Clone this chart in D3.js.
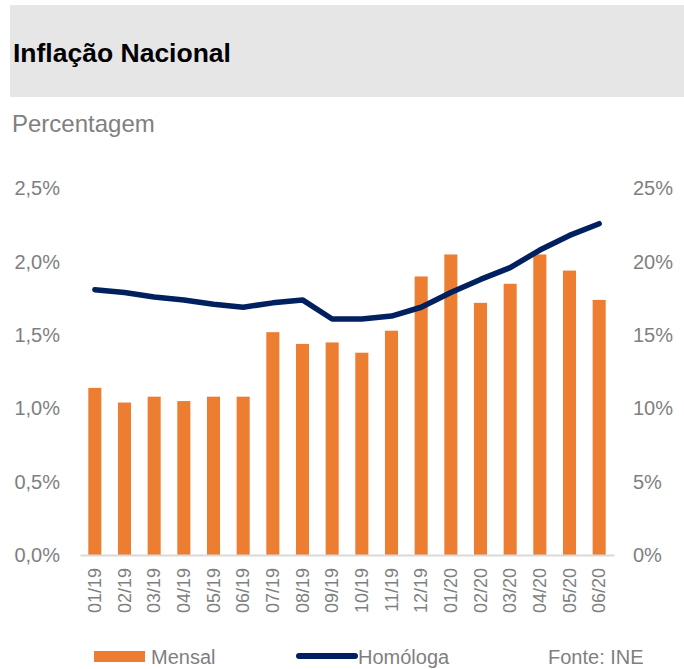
<!DOCTYPE html>
<html>
<head>
<meta charset="utf-8">
<script src="https://cdn.jsdelivr.net/npm/d3@7"></script>
<style>
  body { margin: 0; background: #fff; }
  svg { display: block; font-family: "Liberation Sans", Arial, sans-serif; }
</style>
</head>
<body>
<svg></svg>
<script>
// month labels (mm/yy)
const months = ["01/19", "02/19", "03/19", "04/19", "05/19", "06/19", "07/19", "08/19", "09/19",
  "10/19", "11/19", "12/19", "01/20", "02/20", "03/20", "04/20", "05/20", "06/20"];
// monthly inflation, % (left axis)
const mensal = [1.14, 1.04, 1.08, 1.05, 1.08, 1.08, 1.52, 1.44, 1.45, 1.38, 1.53, 1.90,
  2.05, 1.72, 1.85, 2.05, 1.94, 1.74];
// year-on-year inflation, % (right axis)
const homologa = [18.1, 17.9, 17.6, 17.4, 17.1, 16.9, 17.2, 17.4, 16.1, 16.1, 16.3, 16.9,
  17.9, 18.8, 19.6, 20.8, 21.8, 22.6];
const leftTicks = [0, 0.5, 1, 1.5, 2, 2.5];
const rightTicks = [0, 5, 10, 15, 20, 25];

const width = 684, height = 669;
const orange = "#ed7d31", navy = "#002060", grey = "#7f7f7f";

const svg = d3.select("svg").attr("width", width).attr("height", height);

// header band
svg.append("rect")
  .attr("x", 10).attr("y", 5)
  .attr("width", width - 10).attr("height", 92)
  .attr("fill", "#e6e6e6");

svg.append("text")
  .attr("x", 13).attr("y", 62)
  .attr("font-size", "26.5px")
  .attr("font-weight", "bold")
  .attr("fill", "#000")
  .text("Inflação Nacional");

svg.append("text")
  .attr("x", 12).attr("y", 132)
  .attr("font-size", "24px")
  .attr("fill", grey)
  .text("Percentagem");

const x = d3.scaleBand()
  .domain(months)
  .range([80, 614])
  .paddingInner(0.56)
  .paddingOuter(0.28);

const yL = d3.scaleLinear().domain([0, 2.5]).range([555, 188.5]);
const yR = d3.scaleLinear().domain([0, 25]).range([555, 188.5]);

const ptFormat = d3.formatLocale({ decimal: ",", thousands: ".", grouping: [3], currency: ["", "€"] });
const fmtL = ptFormat.format(".1f");

// left axis
const axL = svg.append("g")
  .attr("transform", "translate(62,0)")
  .call(d3.axisLeft(yL).tickValues(leftTicks).tickSize(0).tickPadding(2)
    .tickFormat((d) => fmtL(d) + "%"));
axL.select(".domain").remove();
axL.selectAll("text")
  .attr("font-size", "20px")
  .attr("font-family", "Liberation Sans, Arial, sans-serif")
  .attr("fill", grey);

// right axis
const axR = svg.append("g")
  .attr("transform", "translate(631,0)")
  .call(d3.axisRight(yR).tickValues(rightTicks).tickSize(0).tickPadding(2)
    .tickFormat((d) => d + "%"));
axR.select(".domain").remove();
axR.selectAll("text")
  .attr("font-size", "20px")
  .attr("font-family", "Liberation Sans, Arial, sans-serif")
  .attr("fill", grey);

// bars
svg.append("g")
  .selectAll("rect")
  .data(months)
  .enter()
  .append("rect")
  .attr("x", (d) => x(d))
  .attr("y", (d, i) => yL(mensal[i]))
  .attr("width", x.bandwidth())
  .attr("height", (d, i) => yL(0) - yL(mensal[i]))
  .attr("fill", orange);

// x axis
const axX = svg.append("g")
  .attr("transform", "translate(0,555)")
  .call(d3.axisBottom(x).tickSize(0).tickSizeOuter(0));
axX.select(".domain").attr("stroke", "#d9d9d9").attr("stroke-width", 2);
axX.selectAll("text")
  .attr("font-size", "18px")
  .attr("font-family", "Liberation Sans, Arial, sans-serif")
  .attr("fill", grey)
  .attr("text-anchor", "end")
  .attr("transform", "rotate(-90)")
  .attr("x", -13)
  .attr("y", 0)
  .attr("dy", "0.35em");

// year-on-year line
const line = d3.line()
  .x((d, i) => x(months[i]) + x.bandwidth() / 2)
  .y((d) => yR(d));

svg.append("path")
  .datum(homologa)
  .attr("d", line)
  .attr("fill", "none")
  .attr("stroke", navy)
  .attr("stroke-width", 5.5)
  .attr("stroke-linejoin", "round")
  .attr("stroke-linecap", "round");

// legend
const legend = svg.append("g").attr("font-size", "20px").attr("fill", grey);

legend.append("rect")
  .attr("x", 94).attr("y", 651)
  .attr("width", 51).attr("height", 11)
  .attr("fill", orange);
legend.append("text").attr("x", 151).attr("y", 664).text("Mensal");

legend.append("line")
  .attr("x1", 299).attr("x2", 355)
  .attr("y1", 656).attr("y2", 656)
  .attr("stroke", navy)
  .attr("stroke-width", 6)
  .attr("stroke-linecap", "round");
legend.append("text").attr("x", 358).attr("y", 664).text("Homóloga");

legend.append("text").attr("x", 548).attr("y", 664).text("Fonte: INE");
</script>
</body>
</html>
